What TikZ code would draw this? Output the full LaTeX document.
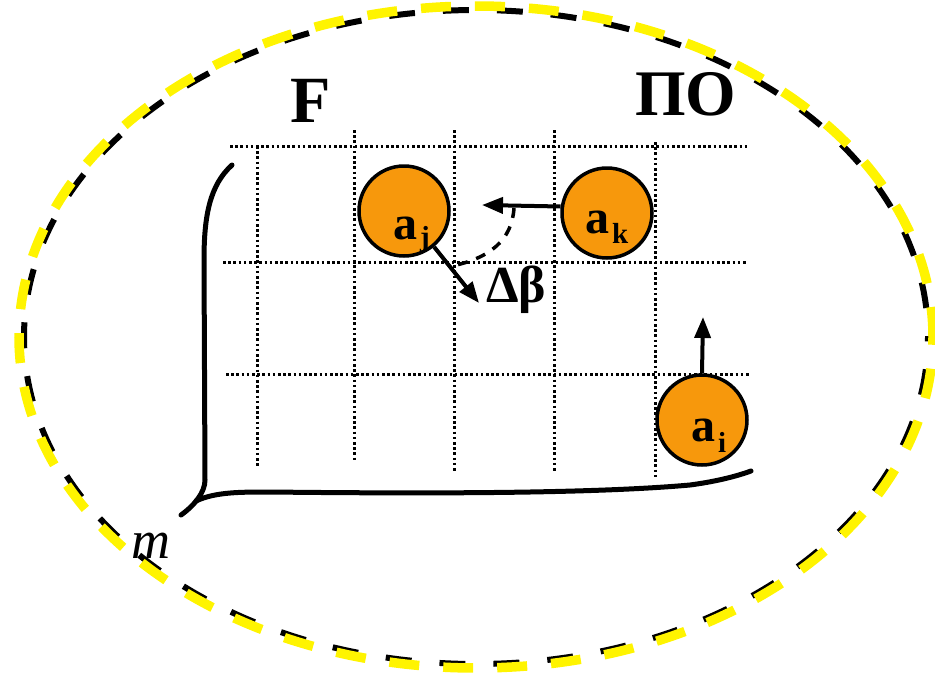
\documentclass[tikz,border=0pt]{standalone}
\usepackage{fontspec}
\setmainfont{Liberation Serif}
\usetikzlibrary{arrows.meta}
\definecolor{ballorange}{RGB}{247,152,12}
\definecolor{dashyellow}{RGB}{255,244,0}
\begin{document}
\begin{tikzpicture}[x=1pt,y=-1pt,
  gridline/.style={line width=3pt, dash pattern=on 2.6pt off 2.6pt, black},
  axisline/.style={line width=5pt, line cap=round},
  ball/.style={circle, draw=black, line width=3.5pt, fill=ballorange, minimum size=90pt, inner sep=0pt},
  arr/.style={line width=4pt, -{Triangle[length=21pt,width=16pt]}},
  lbl/.style={inner sep=0pt, anchor=base west},
  big/.style={font=\fontsize{48pt}{48pt}\selectfont\bfseries},
  sub/.style={font=\fontsize{29pt}{29pt}\selectfont\bfseries},
]
\useasboundingbox (0,0) rectangle (935,673);
% outer ellipse
\draw[line width=6pt, black, dash pattern=on 26pt off 28pt, dash phase=25pt] (476,337) ellipse [x radius=452pt, y radius=327pt];
\draw[line width=9.5pt, dashyellow, dash pattern=on 30pt off 24pt] (476,337) ellipse [x radius=457pt, y radius=331pt];
% grid
\draw[gridline] (230,146) -- (748,146);
\draw[gridline] (223,262) -- (748,262);
\draw[gridline] (226,374) -- (750,374);
\draw[gridline] (257,146) -- (257,467);
\draw[gridline] (354,130) -- (354,462);
\draw[gridline] (454,130) -- (454,472);
\draw[gridline] (554,130) -- (554,472);
\draw[gridline] (655,142) -- (655,478);
% axes
\draw[axisline] (232,165) .. controls (210,185) and (204,215) .. (204,260) -- (205,480) .. controls (205,492) and (195,505) .. (181,515);
\draw[axisline] (196,501) .. controls (215,492) and (240,492) .. (270,492) .. controls (450,494) and (600,493) .. (690,485) .. controls (720,481) and (740,475) .. (751,471);
% balls
\node[ball] (aj) at (404,211) {};
\node[ball] (ak) at (607,213) {};
\node[ball] (ai) at (702,420) {};
\node[lbl, big] (ajA) at (393,239) {a};
\node[lbl, sub] (ajS) at (420,246) {j};
\node[lbl, big] (akA) at (585,233) {a};
\node[lbl, sub] (akS) at (612,243) {k};
\node[lbl, big] (aiA) at (691,441) {a};
\node[lbl, sub] (aiS) at (718,452) {i};
% arrows
\coordinate (tipK) at (482,205);
\coordinate (tipJ) at (479,303);
\coordinate (tipI) at (703,317);
\draw[arr] (ak.172) -- (tipK);
\draw[arr] (aj.-50) -- (tipJ);
\draw[arr] (ai.north) -- (tipI);
\coordinate (dA) at (514,208);
\coordinate (dB) at (452,266);
\draw[line width=3.5pt, dash pattern=on 10pt off 9pt] (dA) .. controls (512,240) and (490,258) .. (dB);
% labels
\node[lbl, font=\fontsize{52pt}{52pt}\selectfont\bfseries] (db) at (486,302) {Δβ};
\node[lbl, font=\fontsize{66pt}{66pt}\selectfont\bfseries] (F) at (290,122) {F};
\node[lbl, font=\fontsize{65pt}{65pt}\selectfont\bfseries] (PO) at (635,115) {ПО};
\node[lbl, font=\fontsize{54pt}{54pt}\selectfont\itshape] (m) at (131,558) {m};
\end{tikzpicture}
\end{document}
